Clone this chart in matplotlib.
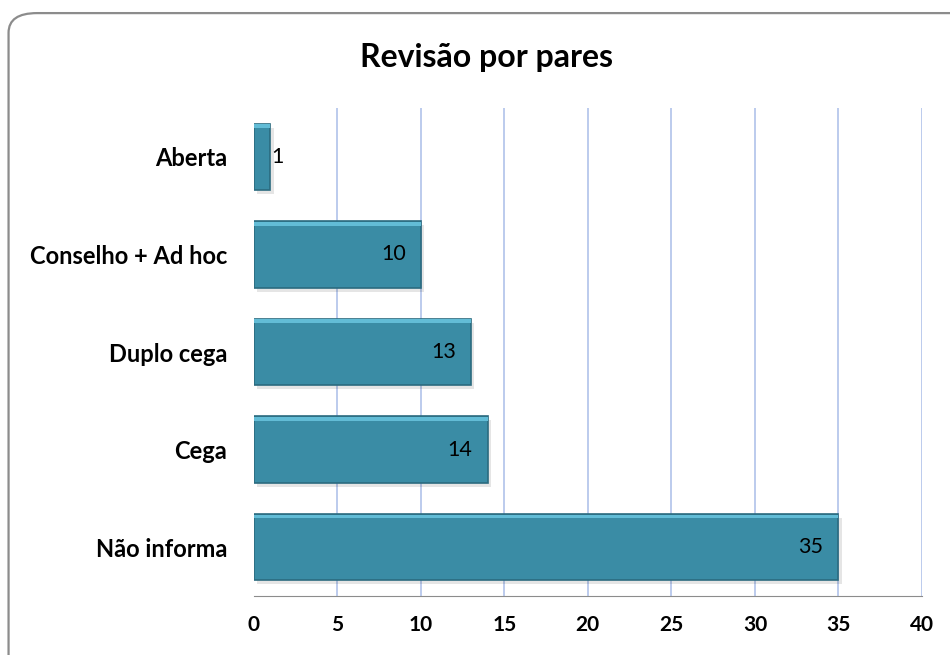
import matplotlib.pyplot as plt
from matplotlib.patches import FancyBboxPatch

plt.rcParams['font.family'] = ['Lato', 'DejaVu Sans']

categorias = ["Não informa", "Cega", "Duplo cega", "Conselho + Ad hoc", "Aberta"]
valores = [35, 14, 13, 10, 1]
ticks_x = [0, 5, 10, 15, 20, 25, 30, 35, 40]

fig = plt.figure(figsize=(9.5, 6.55), dpi=100)

# moldura arredondada
moldura = FancyBboxPatch((0.009, -0.05), 1.05, 1.03, boxstyle="round,pad=0,rounding_size=0.03",
                         transform=fig.transFigure, facecolor="white", edgecolor="#8c8c8c",
                         linewidth=1.6, zorder=-5)
fig.add_artist(moldura)

ax = fig.add_axes([0.267, 0.090, 0.7035, 0.745])
ax.set_facecolor("none")

pos = list(range(len(categorias)))
# sombra
ax.barh([p - 0.04 for p in pos], valores, left=0.2, height=0.68, color="#000000", alpha=0.10, zorder=2)
ax.barh(pos, valores, height=0.68, color="#3a8ca5", edgecolor="#2b6b7f", linewidth=1.2, zorder=3)
# brilho no topo
ax.barh([p + 0.315 for p in pos], valores, height=0.04, color="#62bcd6", linewidth=0, zorder=4)

for p, v in zip(pos, valores):
    if v < 3:
        ax.text(v + 0.05, p, str(v), ha="left", va="center", fontsize=15.5, zorder=5)
    else:
        ax.text(v - 0.9, p, str(v), ha="right", va="center", fontsize=15.5, zorder=5)

ax.set_xlim(0, 40)
ax.set_ylim(-0.5, 4.5)
ax.set_xticks(ticks_x)
ax.set_xticklabels([str(t) for t in ticks_x], fontsize=15, fontweight="bold")
ax.set_yticks(pos)
ax.set_yticklabels(categorias, fontsize=17, fontweight="bold")
ax.tick_params(axis="x", length=0, pad=14)
ax.tick_params(axis="y", length=0, pad=19)

ax.grid(axis="x", color="#b0c2ea", linewidth=1.2, zorder=1)
ax.get_xgridlines()[0].set_visible(False)
ax.set_axisbelow(True)
for s in ["top", "right", "left"]:
    ax.spines[s].set_visible(False)
ax.spines["bottom"].set_color("#8c8c8c")

fig.text(0.512, 0.912, "Revisão por pares", ha="center", va="center", fontsize=23, fontweight="bold")

fig.savefig("out.png", dpi=100)
